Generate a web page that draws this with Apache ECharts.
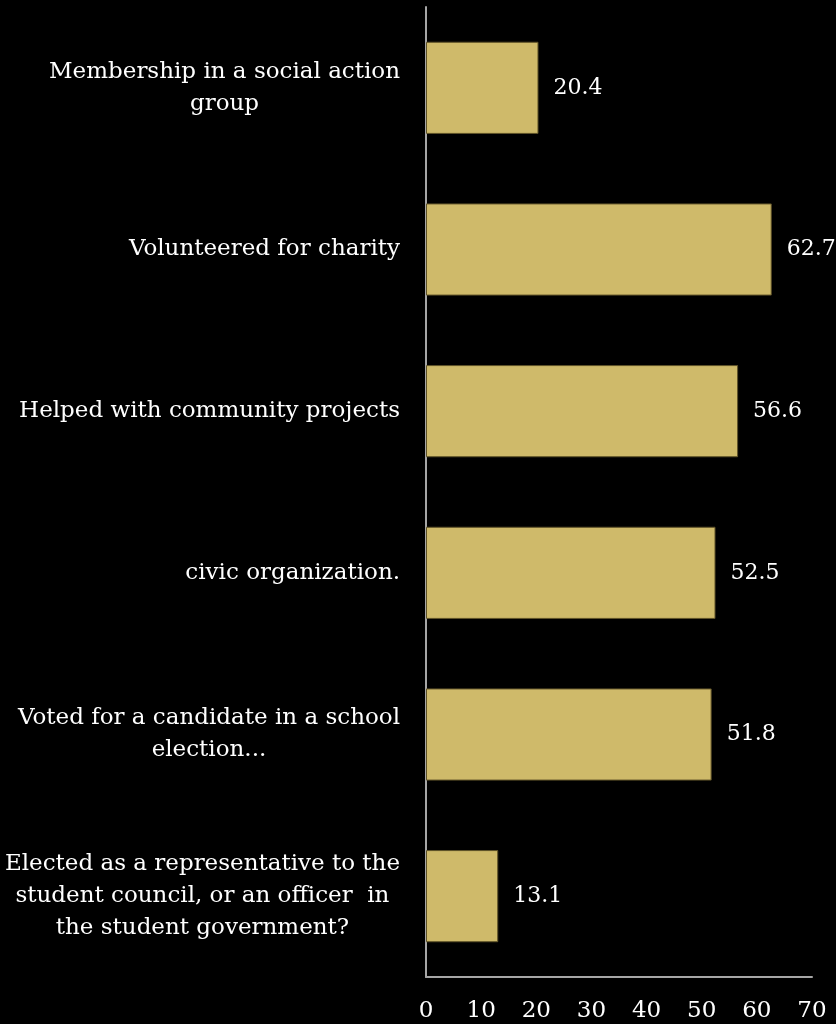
<!DOCTYPE html>
<html>
<head>
<meta charset="utf-8">
<script src="https://cdn.jsdelivr.net/npm/echarts@6/dist/echarts.min.js"></script>
<style>
  html, body { margin: 0; padding: 0; background: #000; }
  #chart { width: 836px; height: 1024px; }
</style>
</head>
<body>
<div id="chart"></div>
<script>
// Activities, listed top to bottom
var categories = [
  'Membership in a social action\ngroup',
  'Volunteered for charity',
  'Helped with community projects',
  'civic organization.',
  'Voted for a candidate in a school\nelection...',
  'Elected as a representative to the\nstudent council, or an officer  in\nthe student government?'
];
// Percent of respondents
var values = [20.4, 62.7, 56.6, 52.5, 51.8, 13.1];
var xTicks = [0, 10, 20, 30, 40, 50, 60, 70];

var FONT = '"DejaVu Serif", serif';

var chart = echarts.init(document.getElementById('chart'), null, { renderer: 'canvas' });
chart.setOption({
  backgroundColor: '#000000',
  animation: false,
  grid: { left: 426, right: 24, top: 7, bottom: 47, containLabel: false },
  xAxis: {
    type: 'value',
    min: xTicks[0],
    max: xTicks[xTicks.length - 1],
    interval: 10,
    axisLine: { show: true, lineStyle: { color: '#a6a6a6', width: 2 } },
    axisTick: { show: false },
    splitLine: { show: false },
    axisLabel: {
      color: '#ffffff', fontFamily: FONT, fontSize: 23, margin: 23
    }
  },
  yAxis: {
    type: 'category',
    inverse: true,
    data: categories,
    axisLine: { show: true, lineStyle: { color: '#a6a6a6', width: 2 } },
    axisTick: { show: false },
    axisLabel: {
      color: '#ffffff', fontFamily: FONT, fontSize: 23, margin: 26,
      lineHeight: 32,
      formatter: function (v) {
        return v.split('\n').map(function (l) { return '{c|' + l + '}'; }).join('\n');
      },
      rich: { c: { align: 'center', color: '#ffffff', fontFamily: FONT, fontSize: 23, lineHeight: 32 } }
    }
  },
  series: [{
    type: 'bar',
    data: values,
    barCategoryGap: '43%',
    itemStyle: { color: '#cfba6a', borderColor: '#5e5228', borderWidth: 1 },
    label: {
      show: true, position: 'right', distance: 15,
      color: '#ffffff', fontFamily: FONT, fontSize: 22,
      formatter: function (p) { return p.value.toFixed(1); }
    }
  }]
});
</script>
</body>
</html>
